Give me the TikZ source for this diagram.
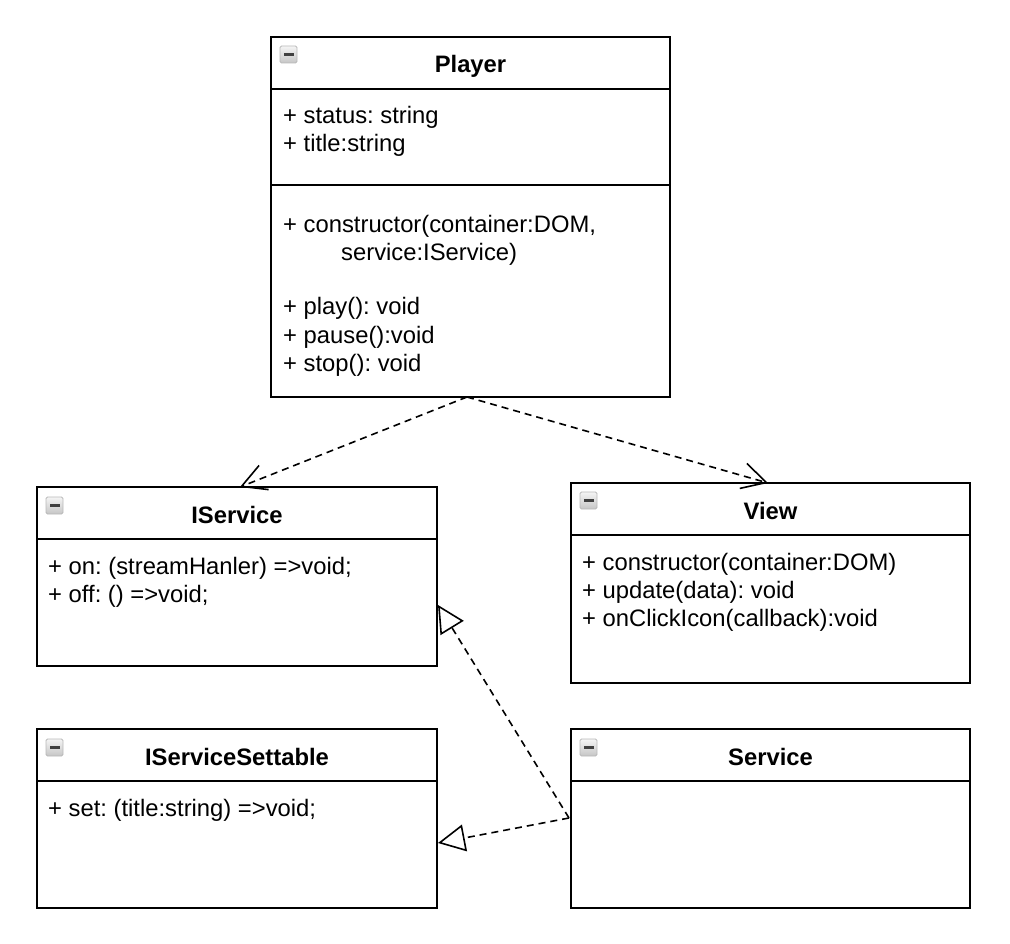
\documentclass[tikz,border=0pt]{standalone}
\usepackage{fontspec}
\setmainfont{Liberation Sans}
\usetikzlibrary{arrows.meta,calc}
\frenchspacing
\begin{document}
\begin{tikzpicture}[x=1pt,y=-1pt,
  classbox/.style={draw,line width=2pt,rectangle,inner sep=0pt,outer sep=0pt},
  sepline/.style={line width=2pt},
  ttl/.style={anchor=base,inner sep=0pt,font=\fontsize{23.8}{28}\selectfont\bfseries},
  txt/.style={anchor=base west,inner sep=0pt,font=\fontsize{23.8}{28}\selectfont\frenchspacing},
  dep/.style={line width=1.6pt,dash pattern=on 7pt off 5pt,-{Straight Barb[length=24pt,width=26pt,line width=1.6pt]}},
  real/.style={line width=1.6pt,dash pattern=on 7pt off 5pt,-{Triangle[open,length=27pt,width=27pt,line width=1.6pt,fill=white]}}
]
\useasboundingbox (0,0) rectangle (1010,944);
\newcommand\umlicon[2]{%
  \shade[top color=gray!8,bottom color=gray!45,draw=gray!55,line width=0.8pt,rounded corners=1.5pt] (#1,#2) rectangle +(17,17);
  \fill[black!75] (#1+3.5,#2+7.2) rectangle (#1+13.5,#2+10);}

% Player
\node[classbox,minimum width=399,minimum height=360] (player) at (470.5,217) {};
\draw[sepline] (271,89) -- (670,89);
\draw[sepline] (271,185) -- (670,185);
\umlicon{280}{46}
\node[ttl] (playerT) at (470.5,73) {Player};
\node[txt] (pa1) at (283,124) {+ status: string};
\node[txt] (pa2) at (283,152) {+ title:string};
\node[txt] (pm1) at (283,232.5) {+ constructor(container:DOM,};
\node[txt] (pm2) at (341,260.5) {service:IService)};
\node[txt] (pm3) at (283,315) {+ play(): void};
\node[txt] (pm4) at (283,343) {+ pause():void};
\node[txt] (pm5) at (283,371) {+ stop(): void};

% IService
\node[classbox,minimum width=400,minimum height=179] (iservice) at (237,576.5) {};
\draw[sepline] (37,539) -- (437,539);
\umlicon{46}{497}
\node[ttl] (iserviceT) at (237,523) {IService};
\node[txt] (ia1) at (48,574) {+ on: (streamHanler) =>void;};
\node[txt] (ia2) at (48,602) {+ off: () =>void;};

% View
\node[classbox,minimum width=399,minimum height=200] (view) at (770.5,583) {};
\draw[sepline] (571,535) -- (970,535);
\umlicon{580}{492}
\node[ttl] (viewT) at (770.5,519) {View};
\node[txt] (va1) at (582,570) {+ constructor(container:DOM)};
\node[txt] (va2) at (582,598) {+ update(data): void};
\node[txt] (va3) at (582,626) {+ onClickIcon(callback):void};

% IServiceSettable
\node[classbox,minimum width=400,minimum height=179] (settable) at (237,818.5) {};
\draw[sepline] (37,781) -- (437,781);
\umlicon{46}{739}
\node[ttl] (settableT) at (237,765) {IServiceSettable};
\node[txt] (sa1) at (48,816) {+ set: (title:string) =>void;};

% Service
\node[classbox,minimum width=399,minimum height=179] (service) at (770.5,818.5) {};
\draw[sepline] (571,781) -- (970,781);
\umlicon{580}{739}
\node[ttl] (serviceT) at (770.5,765) {Service};

% connectors
\coordinate (pfrom) at (467,397);
\coordinate (ito) at (240,487);
\coordinate (vto) at (768,483);
\coordinate (sfrom) at (569,818);
\coordinate (irt) at (438,605);
\coordinate (srt) at (438,843);
\draw[dep] (pfrom) -- (ito);
\draw[dep] (pfrom) -- (vto);
\draw[real] (sfrom) -- (irt);
\draw[real] (sfrom) -- (srt);
\end{tikzpicture}
\end{document}
